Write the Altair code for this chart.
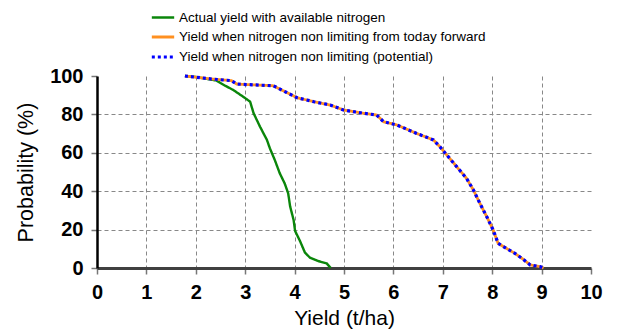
import altair as alt
import pandas as pd

# Series names
S_ACT = "Actual yield with available nitrogen"
S_TOD = "Yield when nitrogen non limiting from today forward"
S_POT = "Yield when nitrogen non limiting (potential)"

act_x = [1.78, 2.0, 2.42, 2.59, 2.76, 2.96, 3.1, 3.17, 3.3, 3.44, 3.5, 3.6, 3.7, 3.8, 3.87, 3.91, 3.98, 4.01, 4.11, 4.21, 4.31, 4.48, 4.65, 4.73]
act_y = [100, 99.5, 97.6, 95, 92.7, 89.2, 86.6, 80.6, 73.6, 66.7, 62.3, 56.2, 49.3, 44, 38.9, 32, 25, 19.3, 14, 8, 5.4, 3.6, 2.4, 0]

pot_x = [1.78, 2.3, 2.72, 2.83, 3.57, 3.84, 4.05, 4.39, 4.72, 4.99, 5.39, 5.66, 5.8, 6.07, 6.47, 6.81, 6.94, 7.08, 7.28, 7.48, 7.62, 7.75, 7.89, 8.02, 8.12, 8.29, 8.46, 8.63, 8.77, 8.97, 9.04]
pot_y = [100, 98.5, 97.6, 95.8, 94.9, 91.4, 88.7, 86.6, 84.9, 82.3, 80.6, 79.7, 76.2, 74.5, 70.1, 66.7, 63.2, 58.9, 52.8, 46.7, 40.6, 33.7, 26.7, 19.8, 12.8, 10.2, 7.6, 4.5, 1.6, 0.7, 0]

x_ticks = [0, 1, 2, 3, 4, 5, 6, 7, 8, 9, 10]
y_ticks = [0, 20, 40, 60, 80, 100]

series_order = [S_ACT, S_TOD, S_POT]

rows = []
for i, (x, y) in enumerate(zip(act_x, act_y)):
    rows.append({"series": S_ACT, "x": x, "y": y, "i": i})
for i, (x, y) in enumerate(zip(pot_x, pot_y)):
    rows.append({"series": S_TOD, "x": x, "y": y, "i": i})
for i, (x, y) in enumerate(zip(pot_x, pot_y)):
    rows.append({"series": S_POT, "x": x, "y": y, "i": i})
df = pd.DataFrame(rows)

FONT = "Liberation Sans"

xscale = alt.Scale(domain=[0, 10], nice=False)
yscale = alt.Scale(domain=[0, 100], nice=False)

xaxis = alt.Axis(
    values=x_ticks, title="Yield (t/ha)", grid=True, labelOverlap=False, labelFlush=False,
    gridOpacity={"condition": {"test": "datum.value == 0 || datum.value == 10", "value": 0}, "value": 1},
)
yaxis = alt.Axis(
    values=y_ticks, title="Probability (%)", grid=True, labelOverlap=False, labelFlush=False,
    tickCount=6,
    gridOpacity={"condition": {"test": "datum.value == 0 || datum.value == 100", "value": 0}, "value": 1},
)

color = alt.Color(
    "series:N",
    scale=alt.Scale(domain=series_order, range=["#0a860a", "#ff9020", "#0000ff"]),
    legend=alt.Legend(
        title=None,
        orient="none",
        legendX=53,
        legendY=-71,
        symbolType="stroke",
        symbolSize=500,
        labelFont=FONT,
        labelFontSize=13.5,
        labelColor="#000000",
        labelLimit=600,
        rowPadding=-9,
        labelOffset=3,
        padding=0,
    ),
)
dash = alt.StrokeDash(
    "series:N",
    scale=alt.Scale(domain=series_order, range=[[1, 0], [1, 0], [3, 3]]),
    legend=None,
)
width = alt.StrokeWidth(
    "series:N",
    scale=alt.Scale(domain=series_order, range=[2.4, 3.2, 2.2]),
    legend=None,
)

base = alt.Chart(df)

def line_layer(name):
    return base.transform_filter(alt.datum.series == name).mark_line(interpolate="linear").encode(
        x=alt.X("x:Q", scale=xscale, axis=xaxis),
        y=alt.Y("y:Q", scale=yscale, axis=yaxis),
        color=color,
        strokeDash=dash,
        strokeWidth=width,
        order="i:Q",
    )

chart = alt.layer(
    line_layer(S_ACT), line_layer(S_TOD), line_layer(S_POT)
).properties(
    width=494, height=192,
    autosize=alt.AutoSizeParams(type="none"),
    padding={"left": 97, "top": 76, "right": 26, "bottom": 65},
    background="white",
).configure_view(
    stroke=None
).configure_axis(
    labelFont=FONT, labelFontSize=20, labelFontWeight="bold", labelColor="#000",
    labelPadding=8,
    tickColor="#777", tickSize=6, tickWidth=1.5,
    gridColor="#888", gridDash=[4, 3], gridWidth=1,
    titleFont=FONT, titleFontWeight="normal", titleColor="#000",
).configure_axisX(
    domainColor="#404040", domainWidth=3, titleFontSize=21, titlePadding=5,
).configure_axisY(
    domainColor="#000", domainWidth=2.5, titleFontSize=21.5, titlePadding=12,
)

chart.save("out.html", embed_options={"renderer": "svg", "actions": False})
